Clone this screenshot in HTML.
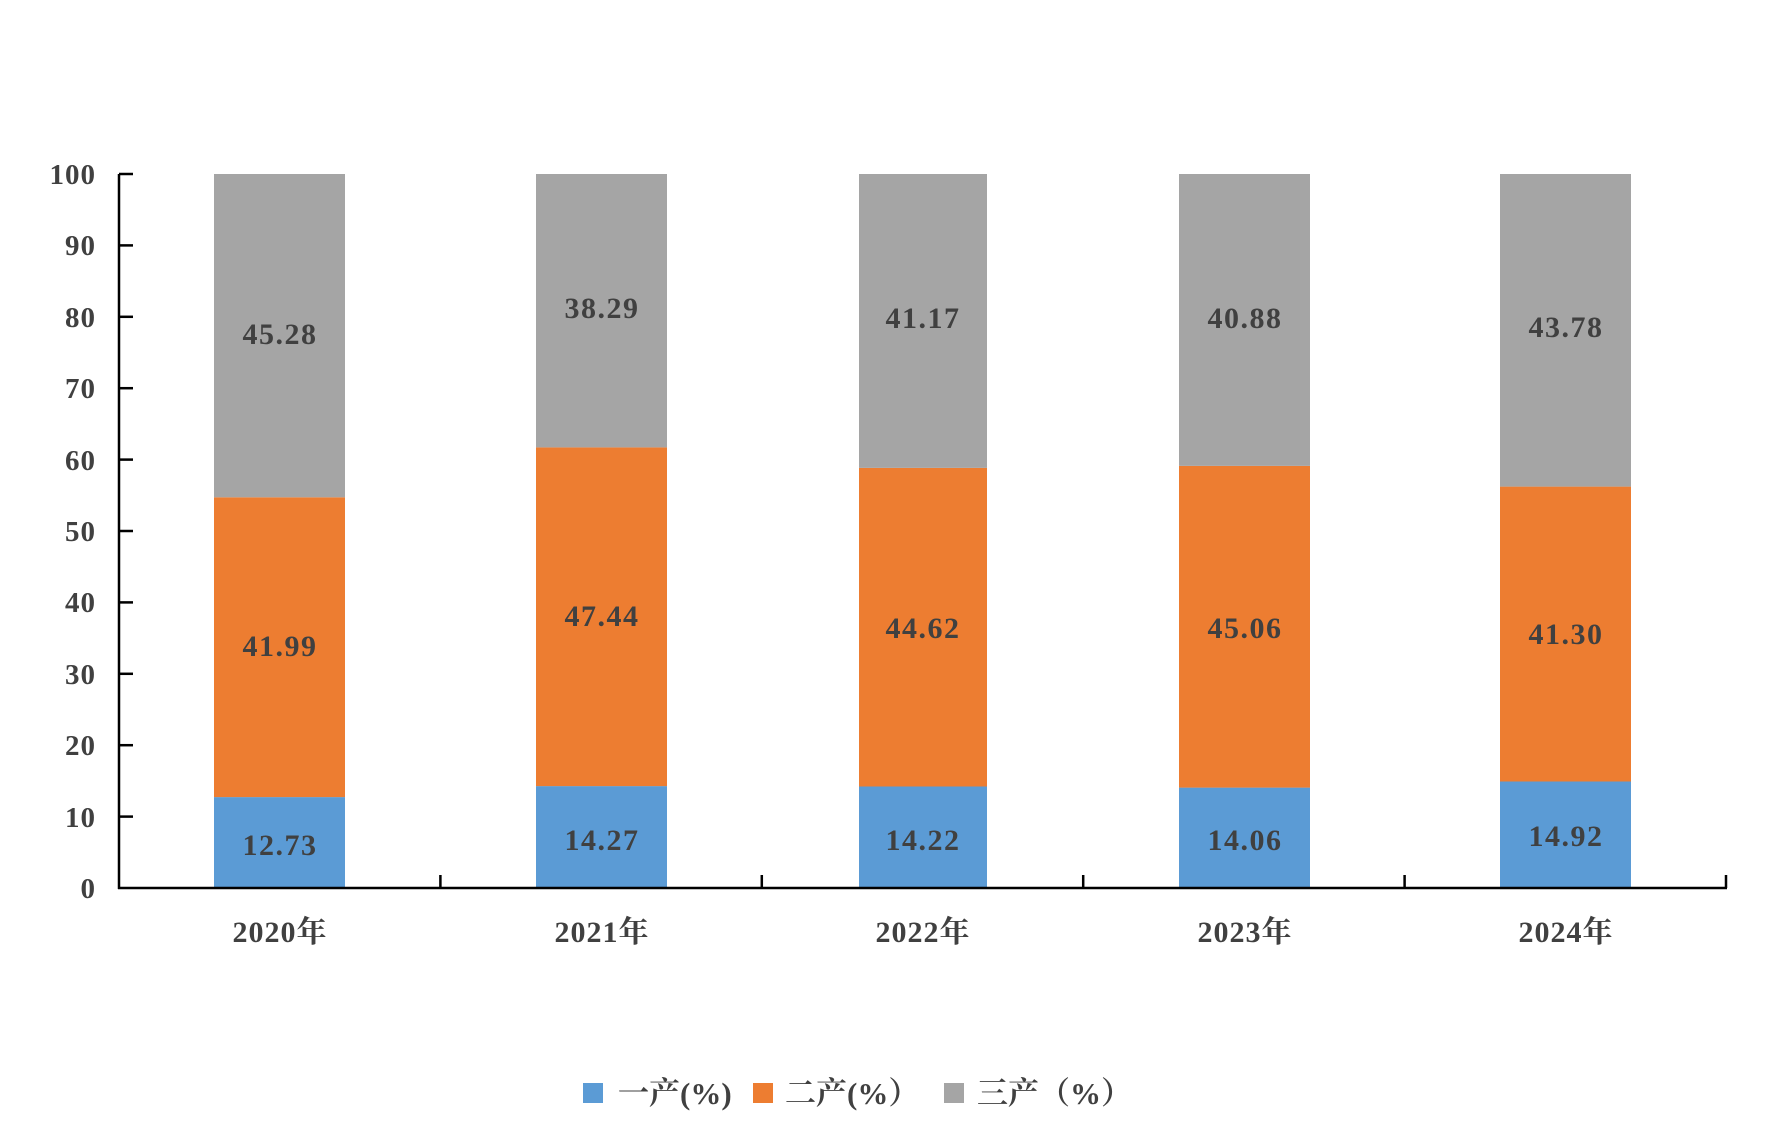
<!DOCTYPE html>
<html><head><meta charset="utf-8"><style>
html,body{margin:0;padding:0;background:#fff}
svg text{font-family:"Liberation Serif","Noto Serif CJK SC",serif;font-weight:bold;fill:#404040}
</style></head><body>
<svg width="1774" height="1131" viewBox="0 0 1774 1131" xmlns="http://www.w3.org/2000/svg">
<g>
<rect x="214" y="797.1" width="131" height="90.9" fill="#5b9bd5"/>
<rect x="214" y="497.3" width="131" height="299.8" fill="#ed7d31"/>
<rect x="214" y="174" width="131" height="323.3" fill="#a5a5a5"/>

<rect x="536" y="786.1" width="131" height="101.9" fill="#5b9bd5"/>
<rect x="536" y="447.4" width="131" height="338.7" fill="#ed7d31"/>
<rect x="536" y="174" width="131" height="273.4" fill="#a5a5a5"/>

<rect x="859" y="786.5" width="128" height="101.5" fill="#5b9bd5"/>
<rect x="859" y="467.9" width="128" height="318.6" fill="#ed7d31"/>
<rect x="859" y="174" width="128" height="293.9" fill="#a5a5a5"/>

<rect x="1179" y="787.6" width="131" height="100.4" fill="#5b9bd5"/>
<rect x="1179" y="465.9" width="131" height="321.7" fill="#ed7d31"/>
<rect x="1179" y="174" width="131" height="291.9" fill="#a5a5a5"/>

<rect x="1500" y="781.5" width="131" height="106.5" fill="#5b9bd5"/>
<rect x="1500" y="486.6" width="131" height="294.9" fill="#ed7d31"/>
<rect x="1500" y="174" width="131" height="312.6" fill="#a5a5a5"/>
</g>
<g font-size="30" text-anchor="middle" letter-spacing="1.5">
<text x="280" y="855">12.73</text><text x="280" y="656">41.99</text><text x="280" y="344">45.28</text>
<text x="602" y="850">14.27</text><text x="602" y="626">47.44</text><text x="602" y="318">38.29</text>
<text x="923" y="850">14.22</text><text x="923" y="638">44.62</text><text x="923" y="328">41.17</text>
<text x="1245" y="850">14.06</text><text x="1245" y="638">45.06</text><text x="1245" y="328">40.88</text>
<text x="1566" y="846">14.92</text><text x="1566" y="644">41.30</text><text x="1566" y="337">43.78</text>
</g>
<g stroke="#000" stroke-width="2.5" fill="none">
<line x1="119" y1="174" x2="119" y2="889"/>
<line x1="118" y1="888" x2="1727" y2="888"/>
<line x1="119" y1="174" x2="133" y2="174"/>
<line x1="119" y1="245.4" x2="133" y2="245.4"/>
<line x1="119" y1="316.8" x2="133" y2="316.8"/>
<line x1="119" y1="388.2" x2="133" y2="388.2"/>
<line x1="119" y1="459.6" x2="133" y2="459.6"/>
<line x1="119" y1="531" x2="133" y2="531"/>
<line x1="119" y1="602.4" x2="133" y2="602.4"/>
<line x1="119" y1="673.8" x2="133" y2="673.8"/>
<line x1="119" y1="745.2" x2="133" y2="745.2"/>
<line x1="119" y1="816.6" x2="133" y2="816.6"/>
<line x1="440.4" y1="888" x2="440.4" y2="875"/>
<line x1="761.8" y1="888" x2="761.8" y2="875"/>
<line x1="1083.2" y1="888" x2="1083.2" y2="875"/>
<line x1="1404.6" y1="888" x2="1404.6" y2="875"/>
<line x1="1726" y1="888" x2="1726" y2="875"/>
</g>
<g font-size="29" text-anchor="end" letter-spacing="1">
<text x="96" y="184">100</text>
<text x="96" y="255">90</text>
<text x="96" y="327">80</text>
<text x="96" y="398">70</text>
<text x="96" y="470">60</text>
<text x="96" y="541">50</text>
<text x="96" y="612">40</text>
<text x="96" y="684">30</text>
<text x="96" y="755">20</text>
<text x="96" y="827">10</text>
<text x="96" y="898">0</text>
</g>
<g font-size="30" text-anchor="middle" letter-spacing="1">
<text x="280" y="942">2020年</text>
<text x="602" y="942">2021年</text>
<text x="923" y="942">2022年</text>
<text x="1245" y="942">2023年</text>
<text x="1566" y="942">2024年</text>
</g>
<rect x="583" y="1083" width="20" height="20" fill="#5b9bd5"/>
<rect x="753" y="1083" width="20" height="20" fill="#ed7d31"/>
<rect x="944" y="1083" width="20" height="20" fill="#a5a5a5"/>
<g font-size="31">
<text x="618" y="1104">一产(%)</text>
<text x="785" y="1104">二产(%）</text>
<text x="977" y="1104">三产（%）</text>
</g>
</svg>
</body></html>
